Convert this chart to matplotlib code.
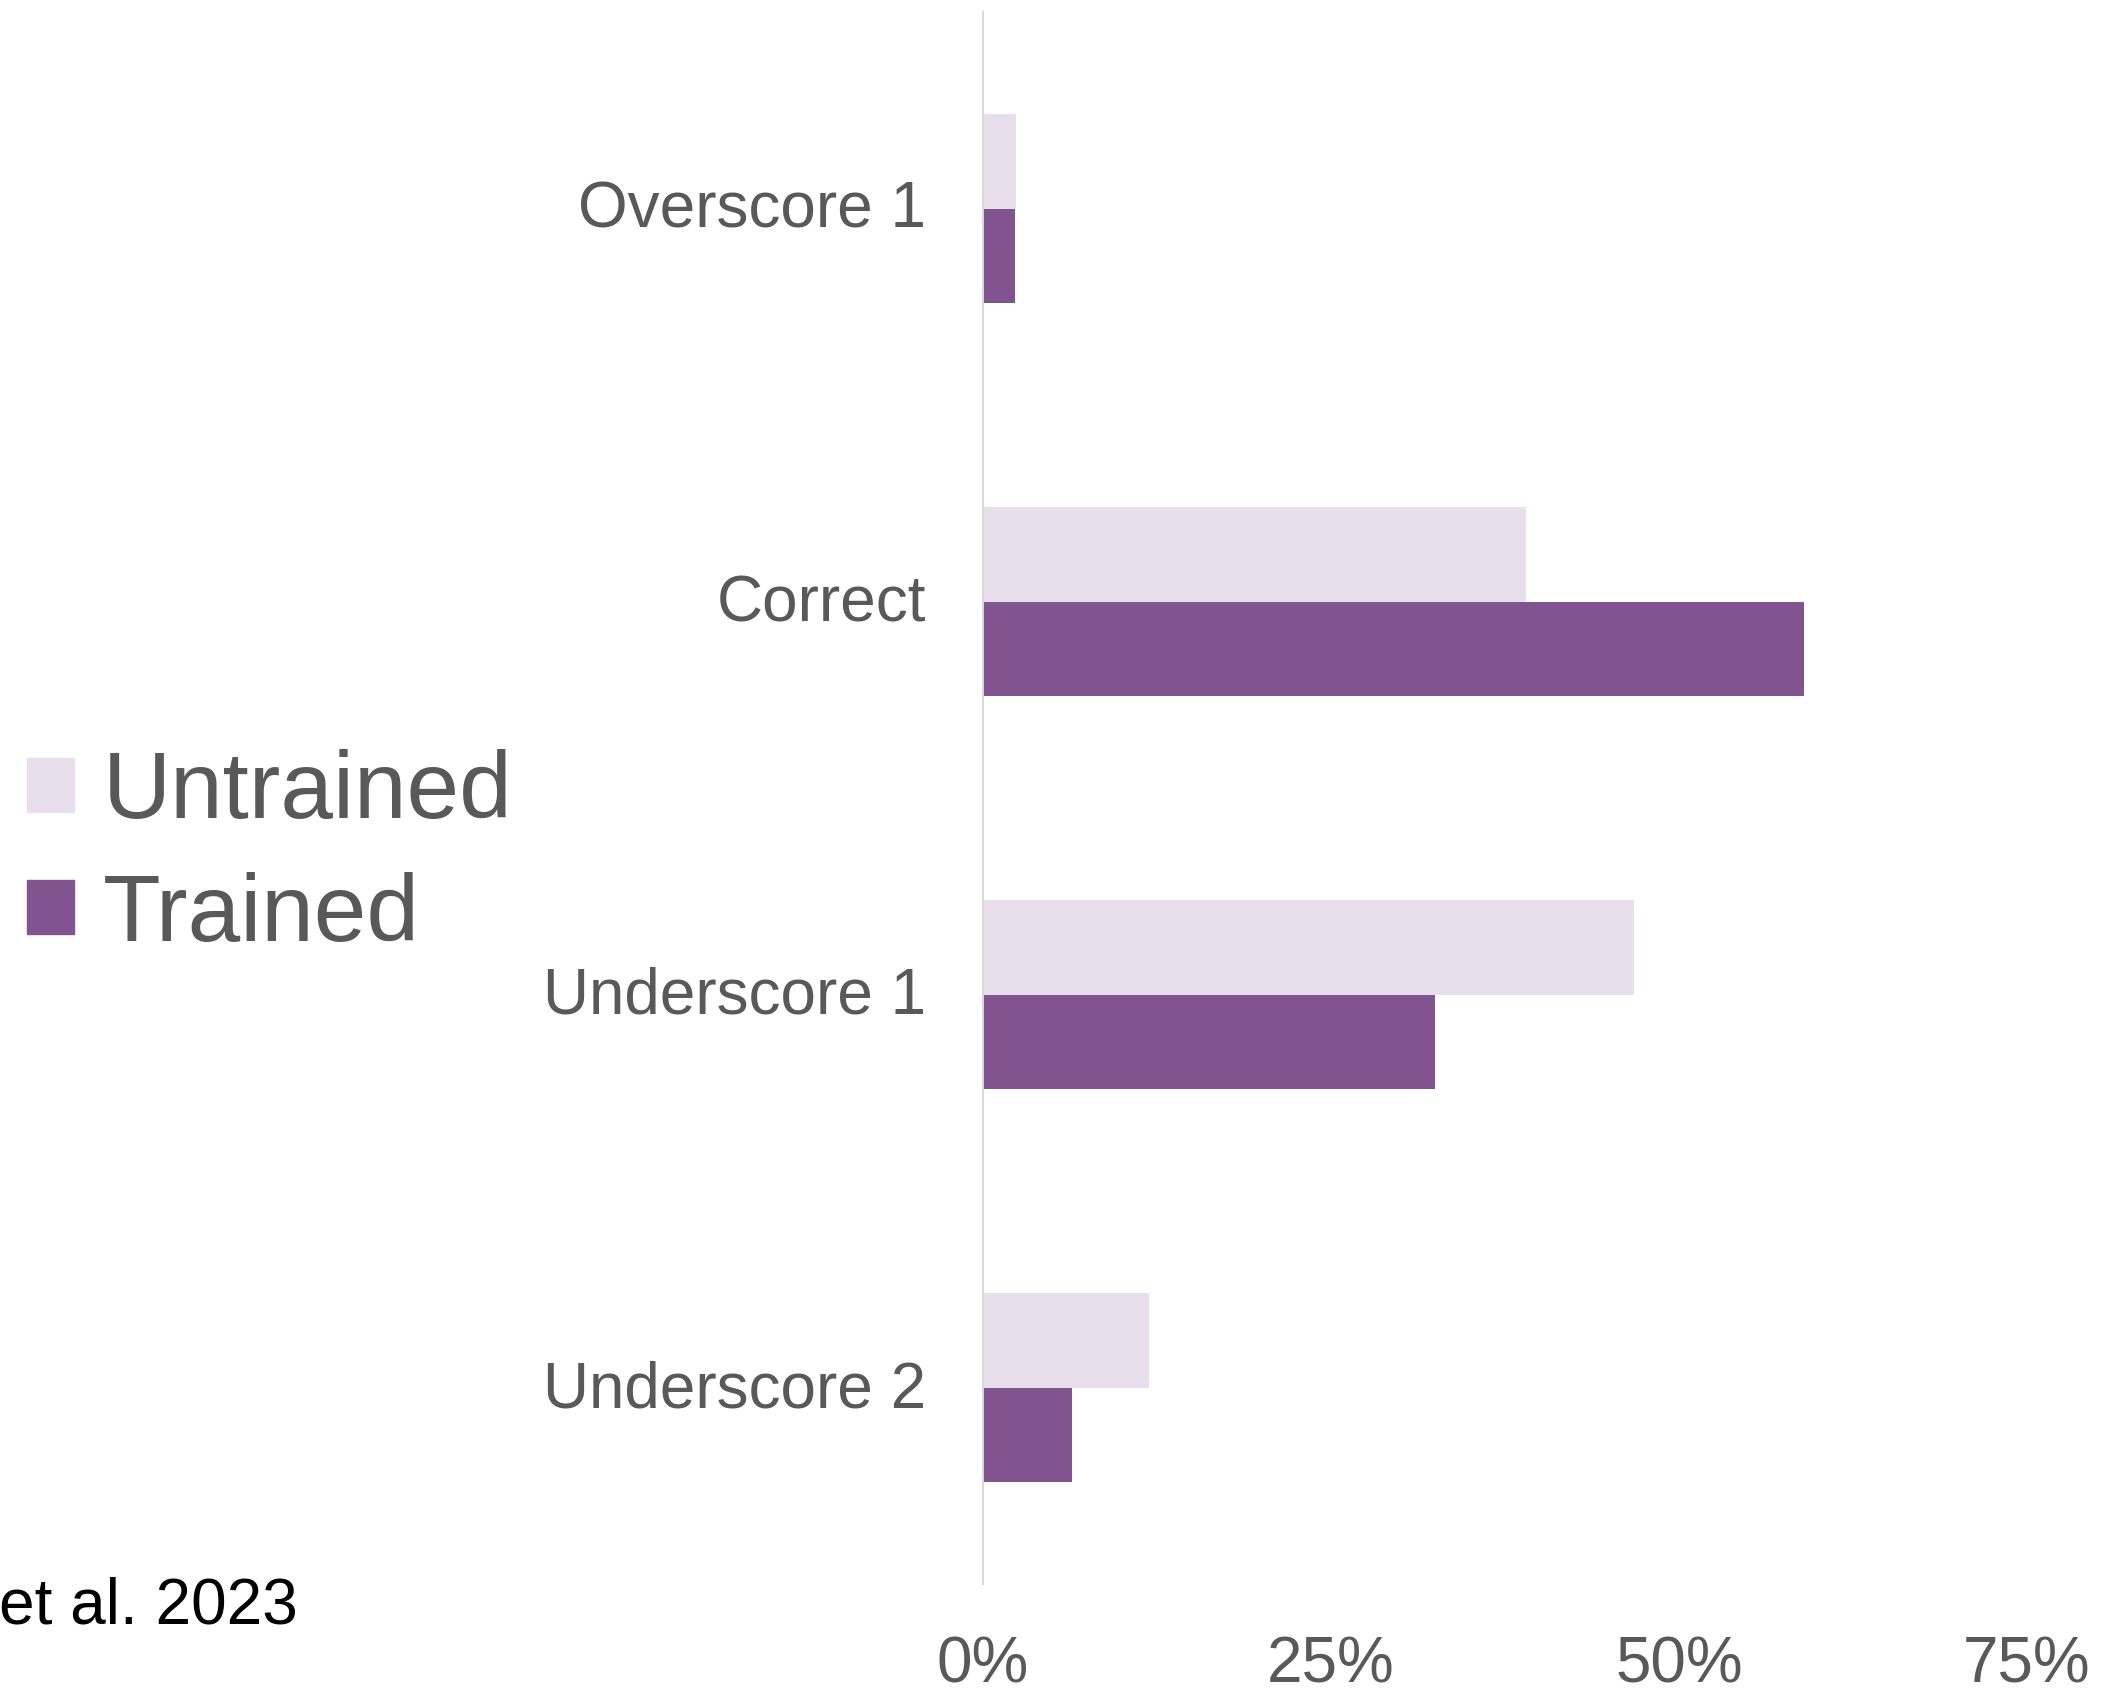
import matplotlib.pyplot as plt
import matplotlib.transforms as mtransforms
import numpy as np
from matplotlib.patches import Patch

plt.rcParams['font.family'] = ['Liberation Sans', 'DejaVu Sans']

# share of ratings per scoring outcome (%)
categories = ["Overscore 1", "Correct", "Underscore 1", "Underscore 2"]
untrained = [2.4, 39.0, 46.8, 11.9]
trained = [2.3, 59.0, 32.5, 6.4]
series_names = ["Untrained", "Trained"]
x_ticks = [0, 25, 50, 75]
x_tick_labels = ["0%", "25%", "50%", "75%"]
source_note = "et al. 2023"

LIGHT = "#E9DFEC"
DARK = "#82548F"
GREY_TXT = "#595959"

W, H = 2105, 1689
fig = plt.figure(figsize=(W / 100, H / 100), dpi=100)

# plot area in pixel terms -> figure fractions
ax = fig.add_axes([983 / W, 1 - 1584 / H, (2027 - 983) / W, (1584 - 12) / H])

y = np.arange(len(categories))
bh = 0.24
ax.barh(y - bh / 2, untrained, height=bh, color=LIGHT, label=series_names[0])
ax.barh(y + bh / 2, trained, height=bh, color=DARK, label=series_names[1])

ax.set_ylim(len(categories) - 0.5, -0.5)
ax.set_xlim(0, 75)

ax.set_yticks(y)
ax.set_yticklabels(categories)
ax.set_xticks(x_ticks)
ax.set_xticklabels(x_tick_labels)
ax.tick_params(axis='y', length=0, pad=41, labelsize=46, labelcolor=GREY_TXT)
ax.tick_params(axis='x', length=0, pad=37, labelsize=46, labelcolor=GREY_TXT)

# nudge category names up a few pixels
lift = mtransforms.ScaledTranslation(0, 4 / 100, fig.dpi_scale_trans)
for lbl in ax.get_yticklabels():
    lbl.set_transform(lbl.get_transform() + lift)

for s in ['top', 'right', 'bottom']:
    ax.spines[s].set_visible(False)
ax.spines['left'].set_color('#D9D9D9')
ax.spines['left'].set_linewidth(1.4)

handles = [Patch(color=LIGHT), Patch(color=DARK)]
fig.legend(handles, series_names, loc='center left', bbox_to_anchor=(27 / W, 1 - 855 / H),
           frameon=False, fontsize=68, labelcolor=GREY_TXT, handlelength=0.5, handleheight=0.5,
           handletextpad=0.3, labelspacing=0.35, borderpad=0, borderaxespad=0)

fig.text(298 / W, 1 - 1607 / H, source_note, ha='right', va='center', fontsize=46, color='black')

fig.savefig("out.png", dpi=100)
